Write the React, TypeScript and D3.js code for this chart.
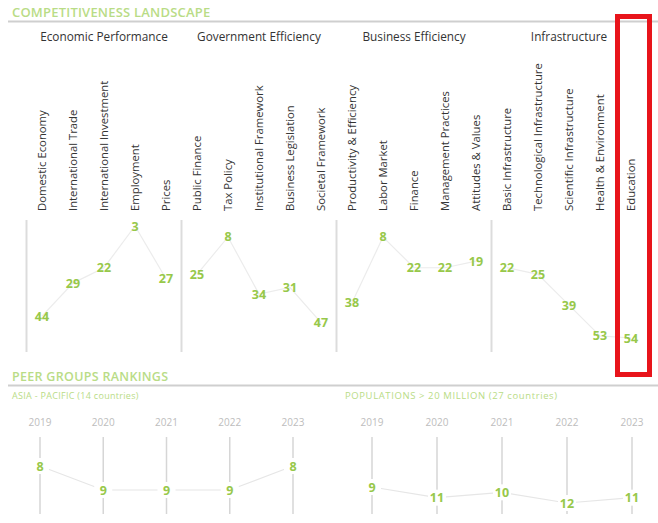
import React from "react";
import * as d3 from "d3";

const groups = ["Economic Performance", "Government Efficiency", "Business Efficiency", "Infrastructure"];
const factors = [
  "Domestic Economy", "International Trade", "International Investment", "Employment", "Prices",
  "Public Finance", "Tax Policy", "Institutional Framework", "Business Legislation", "Societal Framework",
  "Productivity & Efficiency", "Labor Market", "Finance", "Management Practices", "Attitudes & Values",
  "Basic Infrastructure", "Technological Infrastructure", "Scientific Infrastructure", "Health & Environment", "Education",
];
const ranks = [44, 29, 22, 3, 27, 25, 8, 34, 31, 47, 38, 8, 22, 22, 19, 22, 25, 39, 53, 54];
const years = ["2019", "2020", "2021", "2022", "2023"];
const asiaPacific = [8, 9, 9, 9, 8];
const population = [9, 11, 10, 12, 11];

const GREEN = "#97c84a";
const LIGHTGREEN = "#b9dc86";
const FONT = "'Open Sans', 'DejaVu Sans', sans-serif";

export default function App() {
  const W = 658, H = 523;
  const x = d3.scalePoint<string>().domain(factors).range([42, 631]);
  const y = d3.scaleLinear().domain([3, 54]).range([226, 338]);

  const groupIdx = [0, 1, 2, 3];
  const step = x.step();

  const xl = d3.scalePoint<string>().domain(years).range([40, 293]);
  const xr = d3.scalePoint<string>().domain(years).range([372, 632]);
  const yl = d3.scaleLinear().domain([8, 9]).range([466, 490]);
  const yr = d3.scaleLinear().domain([9, 12]).range([487, 503]);

  const lineL = d3.line<number>().x((_, i) => xl(years[i])!).y((d) => yl(d));
  const lineR = d3.line<number>().x((_, i) => xr(years[i])!).y((d) => yr(d));

  return (
    <svg width={W} height={H} style={{ position: "absolute", left: 0, top: 0, background: "#fff" }} fontFamily={FONT}>
      <rect x={0} y={0} width={W} height={H} fill="#fff" />
      {/* header */}
      <text x={12} y={17} fontSize={13} fill={LIGHTGREEN} fontWeight={600} letterSpacing={0.2}>COMPETITIVENESS LANDSCAPE</text>
      <line x1={8} x2={W} y1={21.5} y2={21.5} stroke="#cfcfcf" strokeWidth={2} />

      {groupIdx.map((g) => {
        const cols = factors.slice(g * 5, g * 5 + 5);
        const cx = (x(cols[0])! + x(cols[4])!) / 2;
        const sepX = x(cols[0])! - step / 2;
        const vals = ranks.slice(g * 5, g * 5 + 5);
        const path = d3.line<number>().x((_, i) => x(cols[i])!).y((d) => y(d))(vals);
        return (
          <g key={g}>
            <text x={cx} y={41} fontSize={11.8} fill="#333" textAnchor="middle">{groups[g]}</text>
            <line x1={sepX} x2={sepX} y1={220} y2={352} stroke="#dcdcdc" strokeWidth={2} />
            <path d={path!} fill="none" stroke="#ececec" strokeWidth={1.2} />
          </g>
        );
      })}

      {factors.map((f) => (
        <text key={f} transform={`translate(${x(f)! + 4},211) rotate(-90)`} fontSize={11.3} fill="#333">{f}</text>
      ))}

      {ranks.map((r, i) => (
        <text key={i} x={x(factors[i])!} y={y(r)} fontSize={12.5} fontWeight={700} fill={GREEN} textAnchor="middle" dominantBaseline="central">{r}</text>
      ))}

      {/* peer groups */}
      <text x={12} y={381} fontSize={12.5} fill={LIGHTGREEN} fontWeight={600} letterSpacing={0.3}>PEER GROUPS RANKINGS</text>
      <line x1={8} x2={W} y1={385.5} y2={385.5} stroke="#cfcfcf" strokeWidth={2} />
      <text x={12} y={399} fontSize={9} fill={LIGHTGREEN} letterSpacing={0.3}>ASIA - PACIFIC (14 countries)</text>
      <text x={345} y={399} fontSize={9.5} fill={LIGHTGREEN} letterSpacing={0.6}>POPULATIONS &gt; 20 MILLION (27 countries)</text>

      {[{ xs: xl, ys: yl, vals: asiaPacific, ln: lineL }, { xs: xr, ys: yr, vals: population, ln: lineR }].map((p, pi) => (
        <g key={pi}>
          {years.map((yr0) => (
            <g key={yr0}>
              <text x={p.xs(yr0)!} y={422} fontSize={10} fill="#bdbdbd" textAnchor="middle" dominantBaseline="central">{yr0}</text>
              <line x1={p.xs(yr0)!} x2={p.xs(yr0)!} y1={437} y2={514} stroke="#d6d6d6" strokeWidth={1.5} />
            </g>
          ))}
          <path d={p.ln(p.vals)!} fill="none" stroke="#e6e6e6" strokeWidth={1.2} />
          {p.vals.map((v, i) => (
            <g key={i}>
              <rect x={p.xs(years[i])! - 9} y={p.ys(v) - 8} width={18} height={16} fill="#fff" />
              <text x={p.xs(years[i])!} y={p.ys(v)} fontSize={12.5} fontWeight={700} fill={GREEN} textAnchor="middle" dominantBaseline="central">{v}</text>
            </g>
          ))}
        </g>
      ))}

      {/* highlight */}
      <rect x={617.5} y={16.5} width={32} height={358} fill="none" stroke="#e8141b" strokeWidth={5} />
    </svg>
  );
}
